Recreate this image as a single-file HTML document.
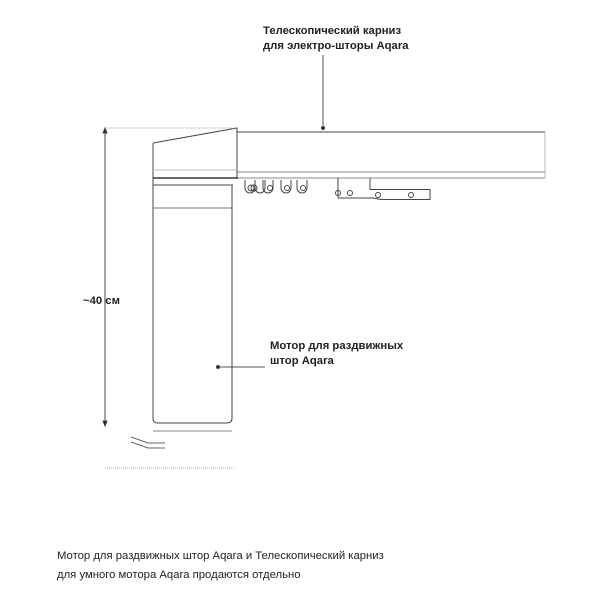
<!DOCTYPE html>
<html><head><meta charset="utf-8"><style>
body{margin:0;background:#fff;width:600px;height:600px;overflow:hidden;font-family:"Liberation Sans","DejaVu Sans",sans-serif;}
svg{position:absolute;left:0;top:0}
text{font-family:"Liberation Sans","DejaVu Sans",sans-serif;fill:#222}
</style></head><body>
<svg width="600" height="600" viewBox="0 0 600 600">
<g fill="none" stroke="#444" stroke-width="1">
<line x1="237" y1="132" x2="545" y2="132"/>
<line x1="545" y1="132" x2="545" y2="178" stroke="#bbb"/>
<line x1="237" y1="172" x2="545" y2="172" stroke="#888"/>
<line x1="237" y1="178" x2="545" y2="178" stroke="#888"/>
<path d="M153 143 L237 128 L237 178 M153 143 L153 178"/>
<line x1="153" y1="170" x2="237" y2="170" stroke="#bbb"/>
<line x1="153" y1="178" x2="238" y2="178" stroke="#111" stroke-width="1.3"/>
<line x1="153" y1="185" x2="233" y2="185"/>
<line x1="153" y1="208" x2="232" y2="208" stroke="#777"/>
<path d="M153 178 L153 418 Q153 423 158 423 L227 423 Q232 423 232 418 L232 185"/>
<line x1="153" y1="431" x2="232" y2="431" stroke="#888"/>
<path d="M245 180 v8 a5 5 0 0 0 10 0 v-8 M255 180 v8 a5 5 0 0 0 10 0 v-8 M263 180 v8 a5 5 0 0 0 10 0 v-8 M281 180 v8 a5 5 0 0 0 10 0 v-8 M297 180 v8 a5 5 0 0 0 10 0 v-8"/>
<circle cx="251" cy="188" r="3"/><circle cx="254" cy="188" r="3"/>
<circle cx="270" cy="188" r="2.5"/><circle cx="287" cy="188" r="2.5"/><circle cx="303" cy="188" r="2.5"/>
<path d="M338 178 v20 h35 l8 1.5 h49 v-10 h-60 v-11"/>
<circle cx="338" cy="193" r="2.5"/><circle cx="350" cy="193" r="2.5"/><circle cx="378" cy="195" r="2.5"/><circle cx="411" cy="195" r="2.5"/>
<line x1="105" y1="130" x2="105" y2="424"/>
<path d="M103 133 L105 128 L107 133 Z M103 421 L105 426 L107 421 Z" fill="#222"/>
<line x1="105" y1="128" x2="237" y2="128" stroke="#aaa" stroke-dasharray="1 1"/>
<line x1="105" y1="468" x2="235" y2="468" stroke="#aaa" stroke-dasharray="1 1"/>
<path d="M131 437 L148 443 L165 443 M131 442 L148 448 L165 448" stroke="#666"/>
<line x1="323" y1="55" x2="323" y2="128" stroke="#555"/>
<circle cx="323" cy="128" r="1.5" fill="#222"/>
<line x1="218" y1="367" x2="265" y2="367" stroke="#555"/>
<circle cx="218" cy="367" r="1.5" fill="#222"/>
</g>
<g font-size="11.3" font-weight="bold">
<text x="263" y="34">Телескопический карниз</text>
<text x="263" y="49">для электро-шторы Aqara</text>
<text x="270" y="349">Мотор для раздвижных</text>
<text x="270" y="364">штор Aqara</text>
<text x="83" y="304">~40 см</text>
</g>
<g font-size="11.3">
<text x="57" y="559">Мотор для раздвижных штор Aqara и Телескопический карниз</text>
<text x="57" y="578">для умного мотора Aqara продаются отдельно</text>
</g>
</svg>
</body></html>
